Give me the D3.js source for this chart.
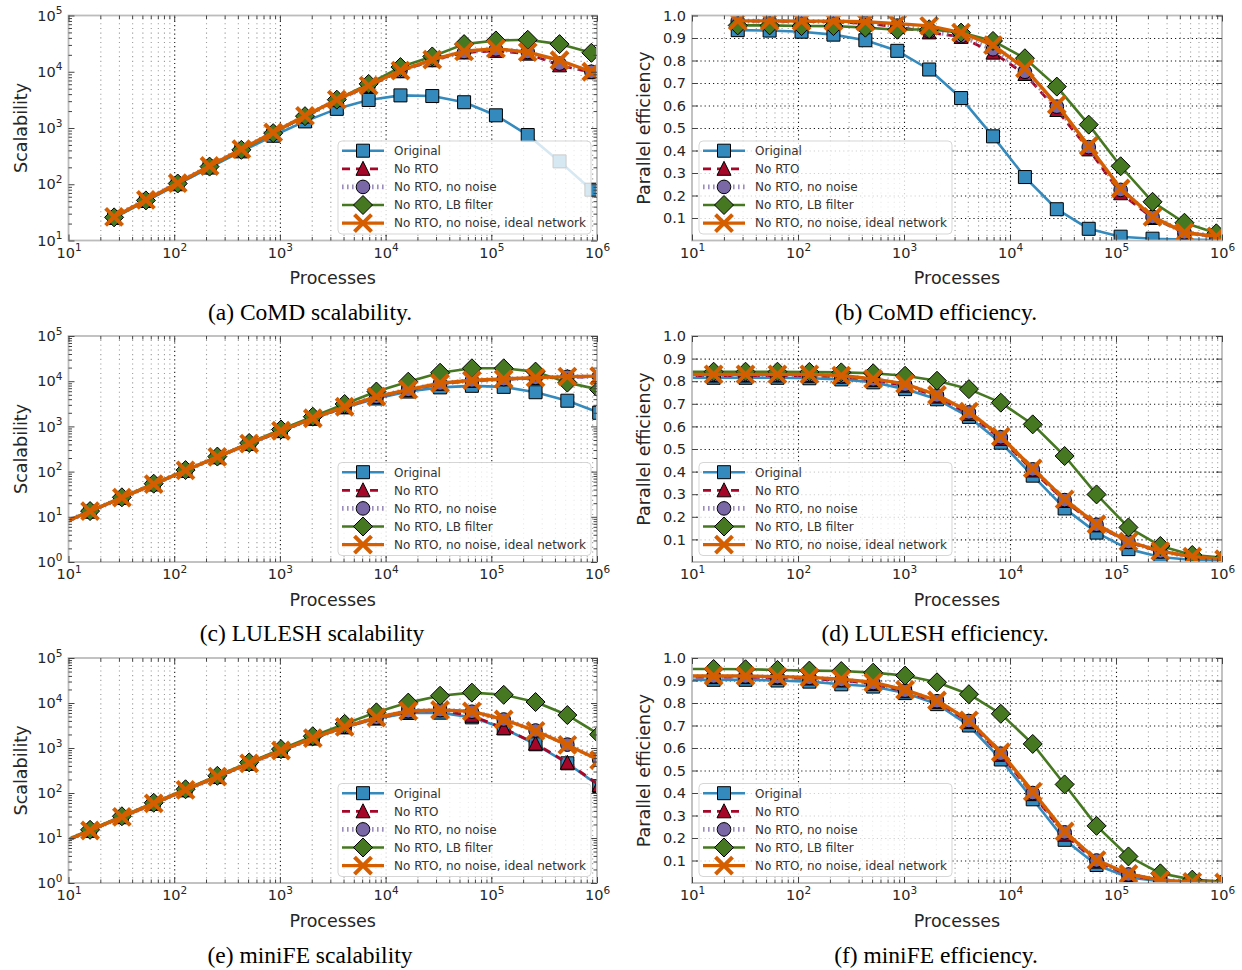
<!DOCTYPE html>
<html>
<head>
<meta charset="utf-8">
<script src="https://cdn.jsdelivr.net/npm/d3@7"></script>
<style>
  body { margin: 0; background: #fff; }
  svg { display: block; }
</style>
</head>
<body>
<svg id="chart" width="1242" height="970"></svg>
<script>
// legend entries, in drawing order
const seriesNames = ["Original", "No RTO", "No RTO, no noise", "No RTO, LB filter", "No RTO, no noise, ideal network"];

// process counts
const comdProcs = [27, 54, 108, 216, 432, 864, 1728, 3456, 6912, 13824, 27648, 55296, 110592, 221184, 442368, 884736];
const otherProcs = [8, 16, 32, 64, 128, 256, 512, 1024, 2048, 4096, 8192, 16384, 32768, 65536, 131072, 262144, 524288, 1048576];

// CoMD scalability
const comdScalOriginal = [25.2, 50.4, 100, 198, 384, 728, 1310, 2190, 3150, 3800, 3700, 2870, 1680, 750, 255, 80];
const comdScalNoRto    = [26.3, 52.6, 105, 210, 417, 821, 1598, 3130, 5600, 10200, 16000, 22000, 23500, 21000, 13000, 9800];
const comdScalNoNoise  = [26.3, 52.6, 105, 210, 418, 825, 1607, 3140, 5650, 10400, 16200, 22500, 25000, 22500, 14000, 10000];
const comdScalLb       = [25.8, 51.6, 103, 206, 409, 810, 1623, 3190, 6080, 12100, 18700, 31000, 36000, 37000, 31000, 21700];
const comdScalIdeal    = [26.3, 52.7, 105, 211, 421, 833, 1648, 3190, 5680, 10500, 16400, 23100, 25700, 22300, 16000, 10000];

// CoMD efficiency
const comdEffOriginal = [0.935, 0.933, 0.928, 0.915, 0.89, 0.843, 0.76, 0.633, 0.463, 0.282, 0.139, 0.052, 0.017, 0.008, 0.004, 0.002];
const comdEffNoRto    = [0.975, 0.975, 0.974, 0.972, 0.965, 0.95, 0.925, 0.905, 0.835, 0.74, 0.58, 0.405, 0.21, 0.1, 0.035, 0.017];
const comdEffNoNoise  = [0.975, 0.975, 0.974, 0.973, 0.968, 0.955, 0.93, 0.908, 0.85, 0.75, 0.595, 0.415, 0.225, 0.105, 0.036, 0.018];
const comdEffLb       = [0.956, 0.956, 0.953, 0.953, 0.946, 0.937, 0.939, 0.924, 0.887, 0.81, 0.684, 0.515, 0.33, 0.172, 0.079, 0.032];
const comdEffIdeal    = [0.976, 0.976, 0.975, 0.975, 0.972, 0.964, 0.954, 0.924, 0.868, 0.765, 0.604, 0.42, 0.231, 0.105, 0.036, 0.018];

// LULESH scalability
const luleshScalOriginal = [6.5, 13, 26, 52, 104, 207, 407, 783, 1475, 2630, 4150, 5900, 7300, 7900, 7500, 5700, 3700, 2000];
const luleshScalNoRto    = [6.6, 13.2, 26.4, 52.8, 105.5, 210, 412, 795, 1500, 2690, 4470, 6350, 8800, 10200, 11000, 11800, 12300, 12600];
const luleshScalNoNoise  = [6.6, 13.2, 26.5, 53, 106, 211, 414, 798, 1508, 2710, 4520, 6450, 8900, 10400, 11100, 11900, 12500, 12800];
const luleshScalLb       = [6.7, 13.4, 27, 54, 108, 215, 430, 855, 1640, 3130, 5900, 9750, 15400, 19300, 19300, 16300, 9300, 6500];
const luleshScalIdeal    = [6.6, 13.3, 26.6, 53, 106, 212, 415, 800, 1515, 2720, 4550, 6500, 9000, 10500, 11200, 12000, 12600, 13000];

// LULESH efficiency
const luleshEffOriginal = [0.815, 0.815, 0.815, 0.815, 0.813, 0.808, 0.795, 0.765, 0.72, 0.642, 0.528, 0.382, 0.237, 0.13, 0.057, 0.022, 0.009, 0.004];
const luleshEffNoRto    = [0.825, 0.825, 0.825, 0.825, 0.824, 0.82, 0.805, 0.78, 0.732, 0.655, 0.545, 0.405, 0.27, 0.162, 0.088, 0.046, 0.023, 0.011];
const luleshEffNoNoise  = [0.828, 0.828, 0.828, 0.828, 0.827, 0.822, 0.808, 0.785, 0.737, 0.662, 0.552, 0.41, 0.274, 0.165, 0.089, 0.047, 0.023, 0.011];
const luleshEffLb       = [0.842, 0.842, 0.842, 0.842, 0.841, 0.839, 0.835, 0.824, 0.802, 0.765, 0.705, 0.609, 0.469, 0.299, 0.153, 0.071, 0.031, 0.019];
const luleshEffIdeal    = [0.83, 0.83, 0.83, 0.83, 0.83, 0.825, 0.81, 0.788, 0.739, 0.665, 0.555, 0.414, 0.277, 0.167, 0.09, 0.048, 0.024, 0.012];

// miniFE scalability
const minifeScalOriginal = [7.2, 14.4, 28.9, 57.6, 114.6, 226, 447, 864, 1628, 2870, 4500, 6000, 6100, 4800, 2740, 1210, 457, 143];
const minifeScalNoRto    = [7.3, 14.6, 29.3, 58.4, 116.4, 230, 453, 872, 1649, 2930, 4670, 6450, 6900, 5200, 2750, 1250, 470, 150];
const minifeScalNoNoise  = [7.35, 14.7, 29.4, 58.6, 116.8, 231, 455, 876, 1655, 2950, 4710, 6550, 6950, 6400, 4300, 2450, 1190, 550];
const minifeScalLb       = [7.6, 15.2, 30.4, 60.6, 121, 241, 479, 944, 1827, 3437, 6200, 10200, 14500, 17000, 15200, 10500, 5400, 2000];
const minifeScalIdeal    = [7.4, 14.7, 29.4, 58.7, 117, 232, 457, 879, 1661, 2960, 4760, 6650, 7000, 6500, 4300, 2400, 1170, 540];

// miniFE efficiency
const minifeEffOriginal = [0.903, 0.903, 0.903, 0.9, 0.895, 0.883, 0.873, 0.844, 0.795, 0.7, 0.549, 0.372, 0.192, 0.08, 0.025, 0.008, 0.003, 0.001];
const minifeEffNoRto    = [0.915, 0.915, 0.915, 0.912, 0.909, 0.9, 0.885, 0.852, 0.805, 0.715, 0.57, 0.395, 0.215, 0.095, 0.035, 0.011, 0.004, 0.0015];
const minifeEffNoNoise  = [0.918, 0.918, 0.918, 0.915, 0.912, 0.903, 0.889, 0.855, 0.808, 0.72, 0.575, 0.4, 0.225, 0.1, 0.038, 0.012, 0.005, 0.002];
const minifeEffLb       = [0.951, 0.951, 0.95, 0.947, 0.944, 0.942, 0.935, 0.922, 0.892, 0.839, 0.752, 0.618, 0.438, 0.254, 0.118, 0.043, 0.015, 0.006];
const minifeEffIdeal    = [0.92, 0.92, 0.92, 0.917, 0.914, 0.906, 0.892, 0.858, 0.811, 0.723, 0.581, 0.406, 0.229, 0.102, 0.04, 0.013, 0.005, 0.002];

// look of each series (same order as seriesNames)
const styles = [
    { color: "#348ABD", width: 2.6, dash: null, opacity: 1, marker: "square" },
    { color: "#A60628", width: 2.8, dash: "8,6", opacity: 1, marker: "triangle" },
    { color: "#7A68A6", width: 4.6, dash: "1.6,3.4", opacity: 0.75, marker: "circle" },
    { color: "#467821", width: 2.6, dash: null, opacity: 1, marker: "diamond" },
    { color: "#D55E00", width: 3.4, dash: null, opacity: 1, marker: "x" }
];

const FONT = "'DejaVu Sans', Verdana, sans-serif";
const svg = d3.select("#chart");

const LEFT = { left: 68.5, right: 597 };
const RIGHT = { left: 692, right: 1222 };
const ROWS = [{ top: 15.5, bottom: 240.5 }, { top: 336, bottom: 562 }, { top: 658, bottom: 883 }];

const panels = [
    { ...LEFT, ...ROWS[0], procs: comdProcs, yLog: true, yMin: 10, yLabel: "Scalability", legendRight: true,
      series: [comdScalOriginal, comdScalNoRto, comdScalNoNoise, comdScalLb, comdScalIdeal],
      caption: "(a) CoMD scalability.", capX: 310, capY: 320 },
    { ...RIGHT, ...ROWS[0], procs: comdProcs, yLog: false, yLabel: "Parallel efficiency", legendRight: false,
      series: [comdEffOriginal, comdEffNoRto, comdEffNoNoise, comdEffLb, comdEffIdeal],
      caption: "(b) CoMD efficiency.", capX: 936, capY: 320 },
    { ...LEFT, ...ROWS[1], procs: otherProcs, yLog: true, yMin: 1, yLabel: "Scalability", legendRight: true,
      series: [luleshScalOriginal, luleshScalNoRto, luleshScalNoNoise, luleshScalLb, luleshScalIdeal],
      caption: "(c) LULESH scalability", capX: 312, capY: 641 },
    { ...RIGHT, ...ROWS[1], procs: otherProcs, yLog: false, yLabel: "Parallel efficiency", legendRight: false,
      series: [luleshEffOriginal, luleshEffNoRto, luleshEffNoNoise, luleshEffLb, luleshEffIdeal],
      caption: "(d) LULESH efficiency.", capX: 935, capY: 641 },
    { ...LEFT, ...ROWS[2], procs: otherProcs, yLog: true, yMin: 1, yLabel: "Scalability", legendRight: true,
      series: [minifeScalOriginal, minifeScalNoRto, minifeScalNoNoise, minifeScalLb, minifeScalIdeal],
      caption: "(e) miniFE scalability", capX: 310, capY: 963 },
    { ...RIGHT, ...ROWS[2], procs: otherProcs, yLog: false, yLabel: "Parallel efficiency", legendRight: false,
      series: [minifeEffOriginal, minifeEffNoRto, minifeEffNoNoise, minifeEffLb, minifeEffIdeal],
      caption: "(f) miniFE efficiency.", capX: 936, capY: 963 }
];

// marker shapes, centred on 0,0
function markerPath(type) {
    switch (type) {
        case "square": return "M-6.5,-6.5h13v13h-13z";
        case "triangle": return "M0,-7.5L7,6.5L-7,6.5z";
        case "circle": return "M6.8,0A6.8,6.8 0 1,1 -6.8,0A6.8,6.8 0 1,1 6.8,0z";
        case "diamond": return "M0,-9.5L9.5,0L0,9.5L-9.5,0z";
        default: return "M-8.5,-8.5L8.5,8.5M-8.5,8.5L8.5,-8.5";
    }
}

function styleMarker(sel, st) {
    if (st.marker === "x") {
        sel.attr("fill", "none").attr("stroke", st.color).attr("stroke-width", 4);
    } else {
        sel.attr("fill", st.color).attr("stroke", "#000").attr("stroke-width", 1);
    }
}

// turns a tick label into 10 with a raised exponent
function powLabel(sel) {
    sel.each(function (d) {
        const t = d3.select(this);
        const e = Math.round(Math.log10(d));
        t.text(null);
        t.append("tspan").text("10");
        t.append("tspan").attr("dy", -6.5).attr("font-size", 10.5).text(e);
    });
}

function drawPanel(p, idx) {
    const w = p.right - p.left, h = p.bottom - p.top;
    const x = d3.scaleLog().domain([10, 1e6]).range([p.left, p.right]);
    const y = p.yLog
        ? d3.scaleLog().domain([p.yMin, 1e5]).range([p.bottom, p.top])
        : d3.scaleLinear().domain([0, 1]).range([p.bottom, p.top]);

    const g = svg.append("g");
    const clipId = "clip" + idx;
    g.append("clipPath").attr("id", clipId)
        .append("rect").attr("x", p.left).attr("y", p.top).attr("width", w).attr("height", h);

    const xMajor = [1e1, 1e2, 1e3, 1e4, 1e5, 1e6];
    const xMinor = [];
    for (let e = 1; e < 6; e++) for (let m = 2; m < 10; m++) xMinor.push(m * Math.pow(10, e));

    let yMajor, yMinor = [];
    if (p.yLog) {
        yMajor = d3.range(Math.round(Math.log10(p.yMin)), 6).map(e => Math.pow(10, e));
        yMajor.slice(0, -1).forEach(v => { for (let m = 2; m < 10; m++) yMinor.push(m * v); });
    } else {
        yMajor = d3.range(1, 11).map(v => v / 10);
    }

    // dotted grid
    function grid(axis, transform, opacity, dash) {
        const s = g.append("g").attr("transform", transform).call(axis);
        s.select(".domain").remove();
        s.selectAll("line").attr("stroke", "#000").attr("stroke-opacity", opacity)
            .attr("stroke-width", 1.1)
            .attr("stroke-dasharray", dash);
    }
    grid(d3.axisBottom(x).tickValues(xMinor).tickSize(-h).tickFormat(""), `translate(0,${p.bottom})`, 0.4, "1.1,3.6");
    grid(d3.axisBottom(x).tickValues(xMajor.slice(1, -1)).tickSize(-h).tickFormat(""), `translate(0,${p.bottom})`, 0.9, "1.2,3");
    grid(d3.axisLeft(y).tickValues(yMajor.filter(v => v < 1)).tickSize(-w).tickFormat(""), `translate(${p.left},0)`, 0.9, "1.2,3");

    // series
    const plot = g.append("g").attr("clip-path", `url(#${clipId})`);
    const line = d3.line().x(d => x(d[0])).y(d => y(d[1]));
    p.series.forEach((vals, i) => {
        const st = styles[i];
        const pts = p.procs.map((v, j) => [v, vals[j]]);
        plot.append("path").datum(pts)
            .attr("d", line)
            .attr("fill", "none")
            .attr("stroke", st.color)
            .attr("stroke-opacity", st.opacity)
            .attr("stroke-width", st.width)
            .attr("stroke-dasharray", st.dash)
            .attr("stroke-linejoin", "round");
        plot.append("g").selectAll("path").data(pts).join("path")
            .attr("transform", d => `translate(${x(d[0])},${y(d[1])})`)
            .attr("d", markerPath(st.marker))
            .call(styleMarker, st);
    });

    // frame
    g.append("rect").attr("x", p.left).attr("y", p.top).attr("width", w).attr("height", h)
        .attr("fill", "none").attr("stroke", "#bcbcbc").attr("stroke-width", 1.8);

    // ticks on all four sides, pointing in
    function ticks(axis, transform) {
        const s = g.append("g").attr("transform", transform).call(axis)
            .attr("font-family", FONT).attr("font-size", 14.5);
        s.select(".domain").remove();
        s.selectAll("line").attr("stroke", "#444").attr("stroke-width", 1);
        s.selectAll("text").attr("fill", "#262626");
        return s;
    }
    const bx = ticks(d3.axisBottom(x).tickValues(xMajor).tickSizeInner(-6).tickSizeOuter(0).tickPadding(7),
        `translate(0,${p.bottom})`);
    bx.selectAll(".tick text").call(powLabel);
    ticks(d3.axisBottom(x).tickValues(xMinor).tickSize(-3.5).tickFormat(""), `translate(0,${p.bottom})`);
    ticks(d3.axisTop(x).tickValues(xMajor).tickSize(-6).tickFormat(""), `translate(0,${p.top})`);
    ticks(d3.axisTop(x).tickValues(xMinor).tickSize(-3.5).tickFormat(""), `translate(0,${p.top})`);

    if (p.yLog) {
        const ly = ticks(d3.axisLeft(y).tickValues(yMajor).tickSizeInner(-6).tickSizeOuter(0).tickPadding(6),
            `translate(${p.left},0)`);
        ly.selectAll(".tick text").call(powLabel);
        ticks(d3.axisLeft(y).tickValues(yMinor).tickSize(-3.5).tickFormat(""), `translate(${p.left},0)`);
        ticks(d3.axisRight(y).tickValues(yMajor).tickSize(-6).tickFormat(""), `translate(${p.right},0)`);
        ticks(d3.axisRight(y).tickValues(yMinor).tickSize(-3.5).tickFormat(""), `translate(${p.right},0)`);
    } else {
        ticks(d3.axisLeft(y).tickValues(yMajor).tickFormat(d3.format(".1f")).tickSizeInner(-6).tickSizeOuter(0).tickPadding(6),
            `translate(${p.left},0)`);
        ticks(d3.axisRight(y).tickValues(yMajor).tickSize(-6).tickFormat(""), `translate(${p.right},0)`);
    }

    // axis titles
    g.append("text")
        .attr("x", (p.left + p.right) / 2).attr("y", p.bottom + 43.5)
        .attr("text-anchor", "middle").attr("font-family", FONT).attr("font-size", 17.5).attr("fill", "#262626")
        .text("Processes");
    g.append("text")
        .attr("transform", `translate(${p.left - 48},${(p.top + p.bottom) / 2}) rotate(-90)`)
        .attr("text-anchor", "middle").attr("dominant-baseline", "central")
        .attr("font-family", FONT).attr("font-size", 17.5).attr("fill", "#262626")
        .text(p.yLabel);

    // legend
    const lw = 253, lh = 93;
    const lx = p.legendRight ? p.right - 6 - lw : p.left + 7;
    const ly = p.bottom - 6.5 - lh;
    const leg = g.append("g");
    leg.append("rect").attr("x", lx).attr("y", ly).attr("width", lw).attr("height", lh).attr("rx", 4)
        .attr("fill", "#fff").attr("fill-opacity", 0.8)
        .attr("stroke", "#cccccc").attr("stroke-opacity", 0.8);
    styles.forEach((st, i) => {
        const cy = ly + 9.7 + i * 18.1;
        leg.append("line").attr("x1", lx + 4).attr("x2", lx + 46).attr("y1", cy).attr("y2", cy)
            .attr("stroke", st.color).attr("stroke-opacity", st.opacity)
            .attr("stroke-width", st.width).attr("stroke-dasharray", st.dash);
        leg.append("path").attr("transform", `translate(${lx + 25},${cy})`)
            .attr("d", markerPath(st.marker)).call(styleMarker, st);
        leg.append("text").attr("x", lx + 56).attr("y", cy + 4.3)
            .attr("font-family", FONT).attr("font-size", 12).attr("fill", "#333")
            .text(seriesNames[i]);
    });

    // caption
    svg.append("text").attr("x", p.capX).attr("y", p.capY)
        .attr("text-anchor", "middle")
        .attr("font-family", "'Liberation Serif', 'Times New Roman', serif").attr("font-size", 23.5).attr("fill", "#000")
        .text(p.caption);
}

panels.forEach(drawPanel);
</script>
</body>
</html>
